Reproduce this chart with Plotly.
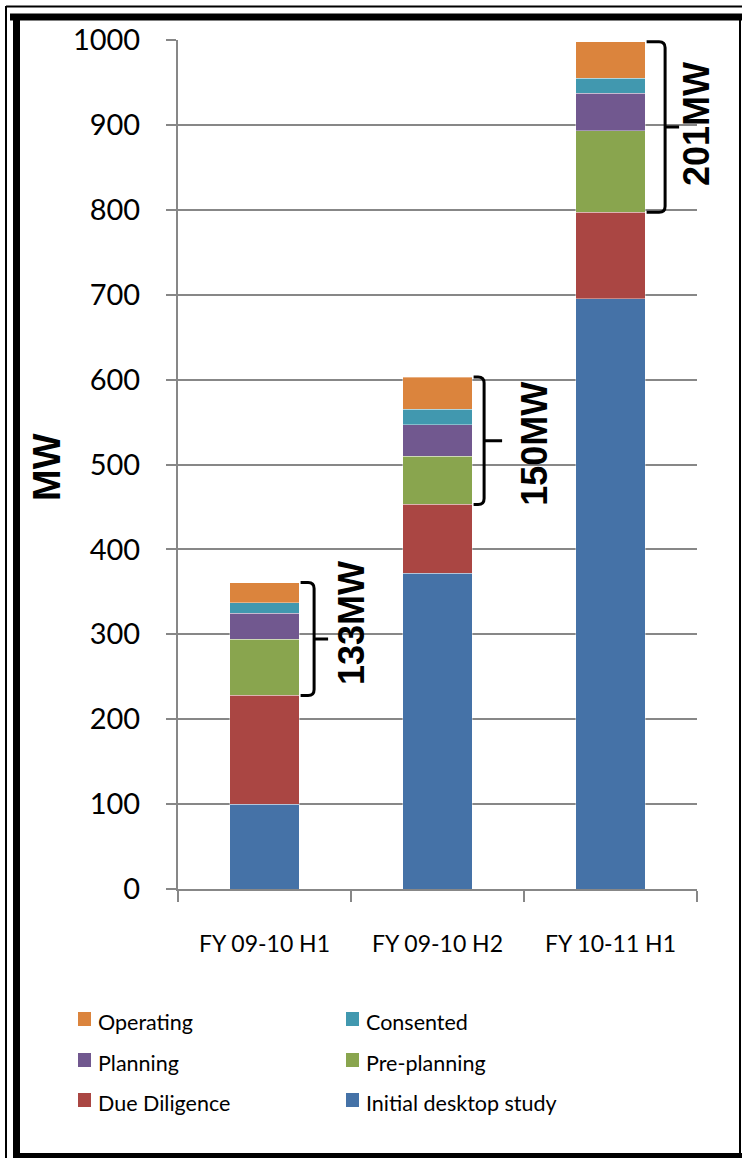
import plotly.graph_objects as go

# --- data -------------------------------------------------------------
categories = ["FY 09-10 H1", "FY 09-10 H2", "FY 10-11 H1"]
series_names = ["Initial desktop study", "Due Diligence", "Pre-planning",
                "Planning", "Consented", "Operating"]
initial_desktop = [100, 372, 695]
due_diligence = [128, 81, 102]
pre_planning = [66, 57, 96]
planning = [31, 37, 44]
consented = [12, 18, 18]
operating = [24, 38, 43]
y_ticks = [0, 100, 200, 300, 400, 500, 600, 700, 800, 900, 1000]

series_values = [initial_desktop, due_diligence, pre_planning,
                 planning, consented, operating]
colors = ["#4572A7", "#AA4643", "#89A54E", "#71588F", "#4198AF", "#DB843D"]

# --- geometry ---------------------------------------------------------
W, H = 742, 1158
M_L, M_R, M_T, M_B = 178, 45, 40, 269
PW = W - M_L - M_R
PH = H - M_T - M_B
Y_MAX = 1000
BAR_FRAC = 0.4


def px_x(px):
    return (px - M_L) / PW


def px_y(py):
    return (H - M_B - py) / PH


def px_to_units(p):
    return p * Y_MAX / PH


GRID = "#878787"
TICK_FONT = dict(family="Lato, Open Sans, sans-serif", color="#000000")

fig = go.Figure()
for name, vals, col in zip(series_names, series_values, colors):
    fig.add_trace(go.Bar(
        x=categories, y=vals, name=name,
        marker=dict(color=col, line=dict(color="rgba(255,255,255,0.45)", width=0.8)),
        showlegend=False,
    ))

shapes = []
annotations = []

# curly brackets spanning the four upper stages of each bar
vx_off = [15, 12, 20]
nub_off = [29, 30, 34]
txt_off = [53, 63, 51]
txt_nudge = [16, -3, 3]
r_px = 6
for i in range(len(categories)):
    lower = initial_desktop[i] + due_diligence[i]
    top = lower + pre_planning[i] + planning[i] + consented[i] + operating[i]
    span = top - lower
    bar_right = (i + 0.5 + BAR_FRAC / 2) / len(categories)
    bar_right_px = M_L + bar_right * PW
    tip = px_x(bar_right_px + 1.5)
    vx = px_x(bar_right_px + vx_off[i])
    vr = px_x(bar_right_px + vx_off[i] - r_px)
    nub = px_x(bar_right_px + nub_off[i])
    ry = px_to_units(r_px)
    mid = (top + lower) / 2
    path = (f"M {tip},{top} L {vr},{top} Q {vx},{top} {vx},{top - ry} "
            f"L {vx},{lower + ry} Q {vx},{lower} {vr},{lower} L {tip},{lower} "
            f"M {vx},{mid} L {nub},{mid}")
    shapes.append(dict(type="path", xref="paper", yref="y", path=path,
                       line=dict(color="black", width=3)))
    annotations.append(dict(
        xref="paper", yref="y",
        x=px_x(bar_right_px + txt_off[i]), y=mid + px_to_units(txt_nudge[i]),
        text=f"{span}MW", textangle=-90, showarrow=False,
        xanchor="center", yanchor="middle",
        font=dict(family="Liberation Sans, Arial, sans-serif", size=36,
                  color="black", weight="bold"),
    ))

# y-axis title
annotations.append(dict(
    xref="paper", yref="paper", x=px_x(47), y=px_y(467),
    text="MW", textangle=-90, showarrow=False,
    xanchor="center", yanchor="middle",
    font=dict(family="Liberation Sans, Arial, sans-serif", size=38,
              color="black", weight="bold"),
))

# legend: two columns, newest stage first
legend_order = list(zip(series_names, colors))[::-1]
col_x = [78, 346]
row_y = [1019, 1060, 1100]
for k, (name, col) in enumerate(legend_order):
    cx = col_x[k % 2]
    cy = row_y[k // 2]
    shapes.append(dict(type="rect", xref="paper", yref="paper",
                       x0=px_x(cx), x1=px_x(cx + 13),
                       y0=px_y(cy - 7), y1=px_y(cy + 7),
                       fillcolor=col, line=dict(width=0)))
    annotations.append(dict(
        xref="paper", yref="paper", x=px_x(cx + 18), y=px_y(cy + 3),
        text=name, showarrow=False, xanchor="left", yanchor="middle",
        font=dict(family="Lato, Open Sans, sans-serif", size=21.5, color="black"),
    ))

# outer frame lines
def seg(x0, y0, x1, y1, w):
    return dict(type="line", xref="paper", yref="paper",
                x0=px_x(x0), y0=px_y(y0), x1=px_x(x1), y1=px_y(y1),
                line=dict(color="black", width=w))


shapes += [
    seg(6, 6.5, 745, 6.5, 2),
    seg(6, 6, 6, 1160, 2),
    seg(10, 17, 745, 17, 7),
    seg(16.5, 14, 16.5, 1160, 7),
    seg(13, 1156, 745, 1156, 6),
    seg(740, 20, 740, 1156, 2),
]

fig.update_layout(
    width=W, height=H,
    margin=dict(l=M_L, r=M_R, t=M_T, b=M_B, autoexpand=False),
    paper_bgcolor="white", plot_bgcolor="white",
    barmode="stack", bargap=1 - BAR_FRAC,
    shapes=shapes, annotations=annotations,
    showlegend=False,
)
fig.update_xaxes(
    type="category", range=[-0.5, 2.5],
    showline=True, linecolor=GRID, linewidth=2,
    ticks="outside", tickson="boundaries", ticklen=11, tickwidth=2, tickcolor=GRID,
    showgrid=False, tickfont=dict(size=23, **TICK_FONT),
    ticklabelstandoff=33,
)
fig.update_yaxes(
    range=[0, Y_MAX], tickvals=y_ticks,
    showline=True, linecolor=GRID, linewidth=2,
    ticks="outside", ticklen=10, tickwidth=2, tickcolor=GRID,
    showgrid=True, gridcolor=GRID, gridwidth=2, zeroline=False,
    tickfont=dict(size=29, **TICK_FONT), ticklabelstandoff=20,
)

fig.write_html("out.html")
